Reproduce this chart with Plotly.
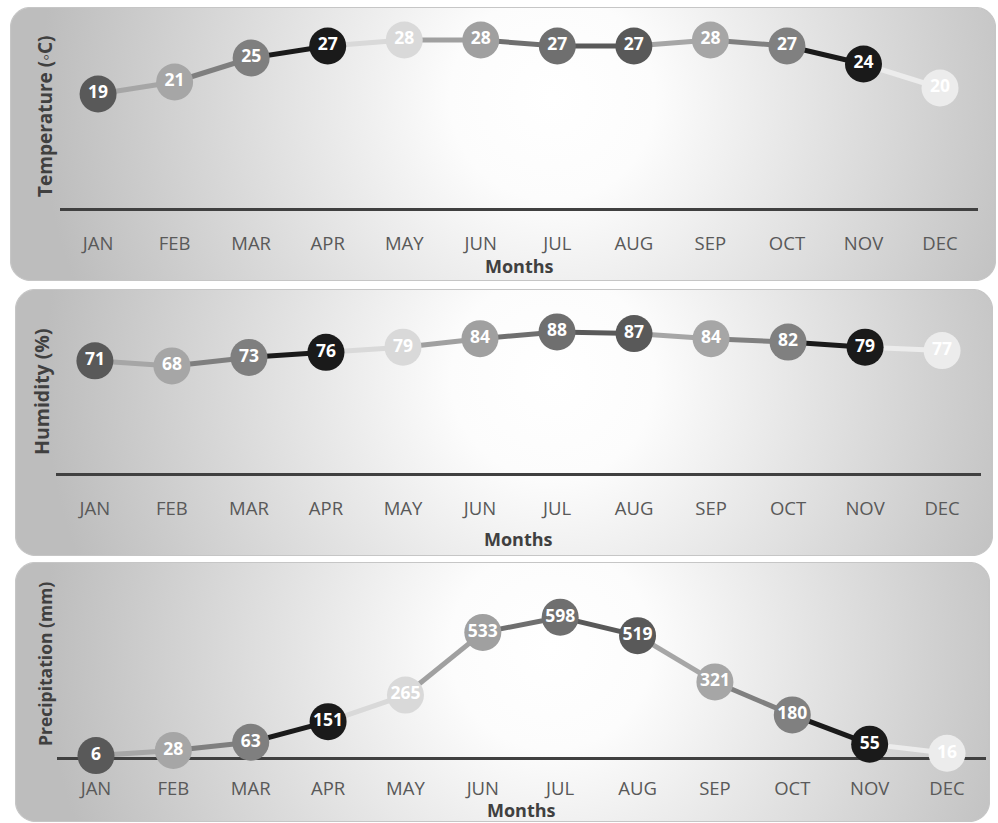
import base64
import plotly.graph_objects as go

# ---------------- data ----------------
months = ["JAN", "FEB", "MAR", "APR", "MAY", "JUN", "JUL", "AUG", "SEP", "OCT", "NOV", "DEC"]
temperature = [19, 21, 25, 27, 28, 28, 27, 27, 28, 27, 24, 20]
humidity = [71, 68, 73, 76, 79, 84, 88, 87, 84, 82, 79, 77]
precipitation = [6, 28, 63, 151, 265, 533, 598, 519, 321, 180, 55, 16]
month_colors = ["#595959", "#a6a6a6", "#7f7f7f", "#1a1a1a", "#d9d9d9", "#a0a0a0",
                "#6f6f6f", "#595959", "#a6a6a6", "#808080", "#1a1a1a", "#ececec"]
y_titles = ["Temperature (\u25e6C)", "Humidity (%)", "Precipitation (mm)"]
x_title = "Months"

W, H = 998, 823

def px(x):
    return x / W

def py(y):
    return 1 - y / H

# panel layout (pixels): background box, x domain, y domain, y range
panels = [
    dict(box=(10, 7, 996, 281), xd=(59.8, 978.3), yd=(28, 208), yr=(0, 30),
         series=temperature, standoff=17, title_y=266, ytitle=(45, 117), tsize=19),
    dict(box=(15, 289, 993, 556), xd=(56.4, 980.6), yd=(303, 473), yr=(5, 105),
         series=humidity, standoff=17, title_y=539, ytitle=(42, 392), tsize=19.5),
    dict(box=(15, 562, 990, 822), xd=(57.3, 985.7), yd=(575, 757), yr=(0, 778.4),
         series=precipitation, standoff=13, title_y=810, ytitle=(45, 664), tsize=17.5),
]

def panel_svg(w, h):
    svg = (
        f'<svg xmlns="http://www.w3.org/2000/svg" width="{w}" height="{h}" viewBox="0 0 {w} {h}">'
        f'<defs><radialGradient id="g" gradientUnits="userSpaceOnUse" cx="{w*0.55:.1f}" cy="{h*0.33:.1f}" r="{w*0.52:.1f}">'
        '<stop offset="0" stop-color="#ffffff"/>'
        '<stop offset="0.2" stop-color="#fcfcfc"/>'
        '<stop offset="1" stop-color="#bdbdbd"/>'
        '</radialGradient></defs>'
        f'<rect x="0.5" y="0.5" width="{w-1}" height="{h-1}" rx="20" ry="20" fill="url(#g)" '
        'stroke="#c6c6c6" stroke-width="1.2"/></svg>'
    )
    return "data:image/svg+xml;base64," + base64.b64encode(svg.encode()).decode()

fig = go.Figure()
images = []
annotations = []

for k, p in enumerate(panels):
    idx = "" if k == 0 else str(k + 1)
    xa, ya = "x" + idx, "y" + idx
    vals = p["series"]
    # line segments, each coloured like the month it leads to
    for i in range(1, len(months)):
        fig.add_trace(go.Scatter(
            x=[months[i - 1], months[i]], y=[vals[i - 1], vals[i]],
            mode="lines", line=dict(color=month_colors[i], width=5),
            xaxis=xa, yaxis=ya, hoverinfo="skip", showlegend=False, cliponaxis=False))
    # markers with labels
    fig.add_trace(go.Scatter(
        x=months, y=vals, mode="markers+text",
        marker=dict(color=month_colors, size=37, line=dict(width=0)),
        text=[str(v) for v in vals], textposition="middle center",
        textfont=dict(family="Open Sans", size=17.5, color="white", weight="bold"),
        xaxis=xa, yaxis=ya, showlegend=False, cliponaxis=False))

    x0, y0, x1, y1 = p["box"]
    images.append(dict(source=panel_svg(x1 - x0, y1 - y0), xref="paper", yref="paper",
                       x=px(x0), y=py(y0), sizex=(x1 - x0) / W, sizey=(y1 - y0) / H,
                       xanchor="left", yanchor="top", sizing="stretch", layer="below"))

    fig.layout["xaxis" + idx] = dict(
        domain=[px(p["xd"][0]), px(p["xd"][1])], anchor=ya, type="category",
        categoryorder="array", categoryarray=months, range=[-0.5, 11.5],
        showline=True, linecolor="#404040", linewidth=3, showgrid=False, zeroline=False,
        ticks="", ticklabelstandoff=p["standoff"], layer="below traces",
        tickfont=dict(family="Open Sans", size=18.5, color="#595959"), fixedrange=True)
    fig.layout["yaxis" + idx] = dict(
        domain=[py(p["yd"][1]), py(p["yd"][0])], anchor=xa, range=list(p["yr"]),
        visible=False, showgrid=False, zeroline=False, fixedrange=True)

    annotations.append(dict(text=x_title, xref="paper", yref="paper",
                            x=px((p["xd"][0] + p["xd"][1]) / 2), y=py(p["title_y"]),
                            xanchor="center", yanchor="middle", showarrow=False,
                            font=dict(family="Open Sans", size=18, color="#404040", weight="bold")))
    annotations.append(dict(text=y_titles[k], xref="paper", yref="paper",
                            x=px(p["ytitle"][0]), y=py(p["ytitle"][1]), textangle=-90,
                            xanchor="center", yanchor="middle", showarrow=False,
                            font=dict(family="Open Sans", size=p["tsize"], color="#404040", weight="bold")))

fig.update_layout(
    width=W, height=H, margin=dict(l=0, r=0, t=0, b=0),
    paper_bgcolor="white", plot_bgcolor="rgba(0,0,0,0)",
    images=images, annotations=annotations, showlegend=False,
    font=dict(family="Open Sans"),
)

fig.write_html("out.html", config={"displayModeBar": False},
               post_script="document.body.style.margin='0';document.body.style.overflow='hidden';")
